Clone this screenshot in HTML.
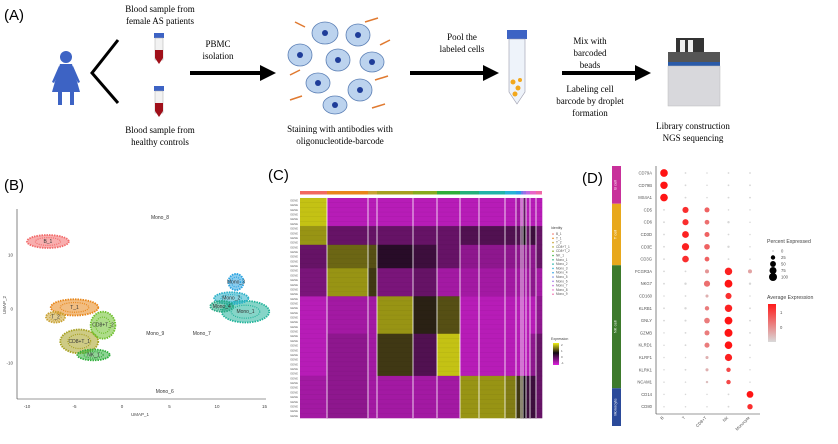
<!DOCTYPE html>
<html><head><meta charset="utf-8"><style>
html,body{margin:0;padding:0;background:#fff;}
svg{display:block;font-family:"Liberation Serif",serif;}
.sans{font-family:"Liberation Sans",sans-serif;}
</style></head><body>
<svg id="fig" width="838" height="444" viewBox="0 0 838 444">
<defs>
<marker id="ah" markerWidth="4" markerHeight="4" refX="2.5" refY="2" orient="auto"><path d="M0,0 L4,2 L0,4 Z" fill="#000"/></marker>
</defs>
<g>
<text x="4" y="20" class="sans" font-size="15">(A)</text>
<g fill="#3d63c4">
<circle cx="66" cy="57" r="6"/>
<path d="M60,64 L72,64 L80,92 L52,92 Z"/>
<rect x="58" y="92" width="4" height="13"/><rect x="70" y="92" width="4" height="13"/>
<path d="M59,66 L52,82 L54,83 L61,69 Z"/><path d="M73,66 L80,82 L78,83 L71,69 Z"/>
</g>
<path d="M118,40 L92,73 L118,103" stroke="#000" stroke-width="3" fill="none"/>
<g><rect x="154" y="33" width="10" height="5" fill="#3d63c4"/><rect x="155" y="38" width="8" height="22" fill="#f2f2f2" stroke="#aaa" stroke-width="0.5"/><path d="M155,50 L163,50 L163,58 L159,64 L155,58 Z" fill="#a0101a"/></g>
<g><rect x="154" y="86" width="10" height="5" fill="#3d63c4"/><rect x="155" y="91" width="8" height="22" fill="#f2f2f2" stroke="#aaa" stroke-width="0.5"/><path d="M155,103 L163,103 L163,111 L159,117 L155,111 Z" fill="#a0101a"/></g>
<g font-size="9" text-anchor="middle"><text x="160" y="12">Blood sample from</text><text x="160" y="24">female AS patients</text></g>
<g font-size="9" text-anchor="middle"><text x="160" y="133">Blood sample from</text><text x="160" y="145">healthy controls</text></g>
<g font-size="9" text-anchor="middle"><text x="218" y="47">PBMC</text><text x="218" y="59">isolation</text></g>
<line x1="190" y1="73" x2="270" y2="73" stroke="#000" stroke-width="4" marker-end="url(#ah)"/>
<g fill="#bcd3ee" stroke="#5b7fb5" stroke-width="0.8">
<ellipse cx="325" cy="33" rx="13" ry="11"/><ellipse cx="358" cy="35" rx="12" ry="11"/><ellipse cx="300" cy="55" rx="12" ry="11"/>
<ellipse cx="338" cy="60" rx="12" ry="11"/><ellipse cx="372" cy="62" rx="12" ry="10"/><ellipse cx="318" cy="83" rx="12" ry="10"/>
<ellipse cx="360" cy="90" rx="12" ry="11"/><ellipse cx="335" cy="105" rx="12" ry="9"/>
</g>
<g fill="#1f3d99">
<circle cx="325" cy="33" r="3"/><circle cx="358" cy="35" r="3"/><circle cx="300" cy="55" r="3"/><circle cx="338" cy="60" r="3"/><circle cx="372" cy="62" r="3"/><circle cx="318" cy="83" r="3"/><circle cx="360" cy="90" r="3"/><circle cx="335" cy="105" r="3"/>
</g>
<g stroke="#e07a30" stroke-width="1.5">
<line x1="295" y1="22" x2="305" y2="27"/><line x1="365" y1="22" x2="378" y2="18"/><line x1="380" y1="45" x2="390" y2="40"/><line x1="290" y1="75" x2="300" y2="70"/><line x1="375" y1="80" x2="388" y2="76"/><line x1="290" y1="100" x2="302" y2="96"/><line x1="372" y1="108" x2="385" y2="104"/>
</g>
<g font-size="9" text-anchor="middle"><text x="340" y="132">Staining with antibodies with</text><text x="340" y="144">oligonucleotide-barcode</text></g>
<g font-size="9" text-anchor="middle"><text x="462" y="40">Pool the</text><text x="462" y="52">labeled cells</text></g>
<line x1="410" y1="73" x2="493" y2="73" stroke="#000" stroke-width="4" marker-end="url(#ah)"/>
<g><rect x="507" y="30" width="20" height="9" fill="#3d63c4"/><path d="M509,39 L525,39 L525,92 L517,104 L509,92 Z" fill="#eef3fa" stroke="#99a" stroke-width="0.6"/>
<circle cx="513" cy="82" r="2.5" fill="#f2a81d"/><circle cx="518" cy="88" r="2.5" fill="#f2a81d"/><circle cx="515" cy="94" r="2.5" fill="#f2a81d"/><circle cx="520" cy="80" r="2" fill="#f2a81d"/></g>
<g font-size="9" text-anchor="middle"><text x="590" y="44">Mix with</text><text x="590" y="56">barcoded</text><text x="590" y="68">beads</text></g>
<line x1="562" y1="73" x2="645" y2="73" stroke="#000" stroke-width="4" marker-end="url(#ah)"/>
<g font-size="9" text-anchor="middle"><text x="590" y="92">Labeling cell</text><text x="590" y="104">barcode by droplet</text><text x="590" y="116">formation</text></g>
<g><rect x="676" y="38" width="28" height="14" fill="#333"/><rect x="680" y="40" width="5" height="12" fill="#eee"/><rect x="688" y="40" width="5" height="12" fill="#eee"/>
<rect x="668" y="52" width="52" height="10" fill="#555"/><rect x="668" y="62" width="52" height="4" fill="#2a5aa8"/><rect x="668" y="66" width="52" height="40" fill="#d8d8dc" stroke="#bbb" stroke-width="0.5"/></g>
<g font-size="9" text-anchor="middle"><text x="693" y="129">Library construction</text><text x="693" y="141">NGS sequencing</text></g>
</g>
<text x="4" y="190" class="sans" font-size="15">(B)</text>
<text x="268" y="180" class="sans" font-size="15">(C)</text>
<text x="582" y="183" class="sans" font-size="15">(D)</text>
<g id="pb" class="sans"></g>
<g id="pc" class="sans"></g>
<g id="pd" class="sans"></g>
</svg>
<script>
const NS="http://www.w3.org/2000/svg";
function mk(tag,attrs,parent,txt){const e=document.createElementNS(NS,tag);for(const k in attrs)e.setAttribute(k,attrs[k]);if(txt!==undefined)e.textContent=txt;parent.appendChild(e);return e;}

/* ---------- Panel B: UMAP ---------- */
const umapClusters=["B_1","T_1","T_2","CD8+T_1","CD8+T_2","NK_1","Mono_1","Mono_2","Mono_3","Mono_4"];
const umapX=[-7.8,-5,-7,-4.5,-2,-3,13,11.5,12,10.5];
const umapY=[12.5,0.3,-1.5,-6,-3,-8.5,-0.5,2,5,0.5];
const umapRx=[2.2,2.5,1,2,1.3,1.7,2.5,1.8,0.8,1.2];
const umapRy=[1.2,1.5,1,2.2,2.5,1,2,1.1,1.5,1];
const umapCol=["#f26b6b","#e8861a","#c9a233","#a6a020","#6cbf2a","#2fae3a","#22b39a","#2ab0c8","#2aa3e0","#27a884"];
const umapLabelText=["Mono_8","Mono_9","Mono_7","Mono_6"];
const umapLabelX=[4,3.5,8.4,4.5];
const umapLabelY=[16.7,-4.8,-4.8,-15.6];
const bxTicks=[-10,-5,0,5,10,15];
const byTicks=[10,0,-10];
const bx=v=>122+9.5*v, by=v=>309-5.4*v;
const pb=document.getElementById('pb');
mk('line',{x1:17,y1:209,x2:17,y2:399,stroke:'#333','stroke-width':0.6,},pb);
mk('line',{x1:17,y1:399,x2:266,y2:399,stroke:'#333','stroke-width':0.6,},pb);
bxTicks.forEach(t=>{const e=mk('text',{x:bx(t),y:408,'font-size':4.5,'text-anchor':'middle',fill:'#444'},pb,String(t));
});
byTicks.forEach(t=>{const e=mk('text',{x:13,y:by(t)+1.5,'font-size':4.5,'text-anchor':'end',fill:'#444'},pb,String(t));
});
mk('text',{x:140,y:416,'font-size':4.5,'text-anchor':'middle',fill:'#444',},pb,'UMAP_1');
mk('text',{x:6,y:305,'font-size':4.5,'text-anchor':'middle',fill:'#444',transform:'rotate(-90 6 305)',},pb,'UMAP_2');
umapClusters.forEach((c,i)=>{
 const g=mk('g',{},pb);
 
 
 const cx=bx(umapX[i]),cy=by(umapY[i]),rx=umapRx[i]*9.5,ry=umapRy[i]*5.4;
 mk('ellipse',{cx,cy,rx,ry,fill:umapCol[i],'fill-opacity':0.55,stroke:umapCol[i],'stroke-width':1.8,'stroke-dasharray':'1.5 1'},g);
 mk('ellipse',{cx,cy,rx:rx*0.6,ry:ry*0.6,fill:'none',stroke:umapCol[i],'stroke-width':1.2,'stroke-dasharray':'1 1.2'},g);
 mk('text',{x:cx,y:cy+1.5,'font-size':5,'text-anchor':'middle',fill:'#333'},g,c);
});
umapLabelText.forEach((t,i)=>{const e=mk('text',{x:bx(umapLabelX[i]),y:by(umapLabelY[i]),'font-size':5,'text-anchor':'middle',fill:'#333'},pb,t);
});

/* ---------- Panel C: heatmap ---------- */
const hmClusters=["B_1","T_1","T_2","CD8+T_1","CD8+T_2","NK_1","Mono_1","Mono_2","Mono_3","Mono_4","Mono_5","Mono_6","Mono_7","Mono_8","Mono_9"];
const hmClusterSize=[27,41,9,36,24,23,19,26,11,5,2,3,4,6,6];
const hmClusterCol=["#f2685f","#e8861a","#c9a233","#a6a020","#86ab1f","#2fae3a","#23b07a","#20b4a8","#27b3d6","#2a9fe6","#6d7fe8","#9a6fe8","#c26be0","#e866c8","#f06aa8"];
const hmBandRows=[6,4,5,6,8,9,9];
const hmValues=[
 [0.9,0.1,0.1,0.1,0.1,0.1,0.1,0.1,0.1,0.15,0.1,0.3,0.1,0.1,0.1],
 [0.8,0.3,0.3,0.3,0.3,0.3,0.35,0.35,0.35,0.35,0.4,0.5,0.3,0.4,0.3],
 [0.3,0.7,0.65,0.45,0.4,0.3,0.2,0.2,0.2,0.2,0.2,0.2,0.2,0.2,0.3],
 [0.25,0.8,0.6,0.25,0.3,0.15,0.15,0.15,0.15,0.15,0.15,0.15,0.15,0.2,0.15],
 [0.1,0.15,0.15,0.8,0.55,0.65,0.1,0.1,0.1,0.1,0.1,0.1,0.1,0.1,0.2],
 [0.1,0.2,0.15,0.6,0.35,0.9,0.1,0.1,0.1,0.1,0.1,0.1,0.1,0.2,0.3],
 [0.15,0.2,0.15,0.15,0.15,0.15,0.8,0.8,0.75,0.6,0.6,0.5,0.4,0.4,0.3]
];
const hmLegendVals=[2,1,0,-1];
const hx0=300,hx1=542,hy0=198,hy1=418;
const totalCells=hmClusterSize.reduce((a,b)=>a+b,0);
const totalRows=hmBandRows.reduce((a,b)=>a+b,0);
const xc=i=>hx0+(hx1-hx0)*hmClusterSize.slice(0,i).reduce((a,b)=>a+b,0)/totalCells;
const yr=r=>hy0+(hy1-hy0)*r/totalRows;
function hcol(v){const mag=[224,32,224],blk=[20,10,20],yel=[240,240,20];let a,b,t;
 if(v<0.5){a=mag;b=blk;t=v/0.5;}else{a=blk;b=yel;t=(v-0.5)/0.5;}
 return 'rgb('+a.map((x,k)=>Math.round(x+(b[k]-x)*t)).join(',')+')';}
const pc=document.getElementById('pc');
let row=0;
hmBandRows.forEach((n,b)=>{
 hmClusters.forEach((c,i)=>{
  const cell=mk('rect',{x:xc(i),y:yr(row),width:xc(i+1)-xc(i)+0.3,height:yr(row+n)-yr(row)+0.3,fill:hcol(hmValues[b][i])},pc);
  
  
 });
 row+=n;
});
for(let r=0;r<totalRows;r++){mk('line',{x1:hx0,y1:yr(r),x2:hx1,y2:yr(r),stroke:'#000','stroke-opacity':0.06,'stroke-width':0.6},pc);
 const g=mk('text',{x:hx0-2,y:yr(r)+3.5,'font-size':2.8,'text-anchor':'end',fill:'#666'},pc,'GENE');
 }
hmClusters.forEach((c,i)=>{
 const bar=mk('rect',{x:xc(i),y:191,width:xc(i+1)-xc(i),height:3.5,fill:hmClusterCol[i]},pc);
 
 if(i>0){const l=mk('line',{x1:xc(i),y1:hy0,x2:xc(i),y2:hy1,stroke:'#fff','stroke-width':0.8},pc);
 }
 const t=mk('text',{x:556,y:235+i*4.3,'font-size':3.2,fill:'#555'},pc,c);
 
 mk('circle',{cx:553,cy:234+i*4.3,r:0.8,fill:hmClusterCol[i]},pc);
});
mk('text',{x:551,y:229,'font-size':3.5,fill:'#444',},pc,'Identity');
mk('text',{x:551,y:340,'font-size':3.5,fill:'#444',},pc,'Expression');
const grad=mk('defs',{},pc);
const lg=mk('linearGradient',{id:'hg',x1:0,y1:0,x2:0,y2:1},grad);
mk('stop',{offset:'0',"stop-color":'rgb(240,240,20)'},lg);mk('stop',{offset:'0.45',"stop-color":'rgb(20,10,20)'},lg);mk('stop',{offset:'1',"stop-color":'rgb(224,32,224)'},lg);
mk('rect',{x:553,y:343,width:6,height:22,fill:'url(#hg)',},pc);
hmLegendVals.forEach((v,i)=>{const t=mk('text',{x:561,y:346+i*6,'font-size':3,fill:'#555'},pc,String(v));
 });

/* ---------- Panel D: dot plot ---------- */
const dpGenes=["CD79A","CD79B","MS4A1","CD5","CD6","CD3D","CD3E","CD3G","FCGR3A","NKG7","CD160","KLRB1","GNLY","GZMB","KLRD1","KLRF1","KLRK1","NCAM1","CD14","CD80"];
const dpCells=["B","T","CD8+T","NK","Monocyte"];
const dpPct=[
 [90,2,1,2,2],[85,2,1,2,2],[90,2,1,2,2],
 [2,55,35,1,1],[2,55,30,5,1],[2,70,35,2,1],[2,80,45,5,1],[2,65,30,2,1],
 [2,2,20,85,20],[2,5,55,95,5],[1,2,10,55,1],[2,5,25,85,2],[2,3,45,95,2],[1,2,35,100,2],[1,2,35,90,2],[1,1,10,80,1],[1,2,10,25,1],[1,1,5,25,1],
 [1,1,1,2,70],[1,1,1,2,40]];
const dpAvg=[
 [1.5,0,0,0,0],[1.5,0,0,0,0],[1.5,0,0,0,0],
 [0,1.3,0.9,0,0],[0,1.3,0.8,0,0],[0,1.4,0.9,0,0],[0,1.4,0.9,0,0],[0,1.3,0.9,0,0],
 [0,0,0.5,1.4,0.4],[0,0,0.8,1.5,0],[0,0,0.3,1.3,0],[0,0,0.7,1.4,0],[0,0,0.7,1.5,0],[0,0,0.7,1.5,0],[0,0,0.7,1.5,0],[0,0,0.3,1.4,0],[0,0,0.3,1.1,0],[0,0,0.2,1.1,0],
 [0,0,0,0,1.5],[0,0,0,0,1.3]];
const dpGroups=["B cell","T cell","NK cell","Monocyte"];
const dpGroupSize=[3,5,10,2];
const dpGroupCol=["#c8309a","#e8a81c","#3d7a2c","#2b4a9a"];
const dpSizeLegend=[0,25,50,75,100];
const dpColorLegend=[1,0];
const dx=i=>664+21.5*i, dy=i=>173+12.3*i;
const dr=p=>0.4+3.6*Math.sqrt(p/100);
function dcol(a){const t=Math.max(0,Math.min(1,a/1.5));const g=[215,215,215],r=[255,20,20];
 return 'rgb('+g.map((x,k)=>Math.round(x+(r[k]-x)*t)).join(',')+')';}
const pd=document.getElementById('pd');
mk('line',{x1:656,y1:166,x2:656,y2:414,stroke:'#333','stroke-width':0.6,},pd);
mk('line',{x1:656,y1:414,x2:760,y2:414,stroke:'#333','stroke-width':0.6,},pd);
let gi=0;
dpGroups.forEach((gname,k)=>{
 const y0=k===0?166:dy(gi)-6.15, y1=k===dpGroups.length-1?426:dy(gi+dpGroupSize[k])-6.15;
 const r=mk('rect',{x:612,y:y0,width:9,height:y1-y0,fill:dpGroupCol[k]},pd);
 
 const cy=(y0+y1)/2;
 const t=mk('text',{x:616.5,y:cy,'font-size':4,fill:'#fff','text-anchor':'middle',transform:'rotate(-90 616.5 '+cy+')'},pd,gname);
 
 gi+=dpGroupSize[k];
});
dpGenes.forEach((g,i)=>{
 const t=mk('text',{x:652,y:dy(i)+1.5,'font-size':4.2,'text-anchor':'end',fill:'#555'},pd,g);
 
 dpCells.forEach((c,j)=>{
  const d=mk('circle',{cx:dx(j),cy:dy(i),r:dr(dpPct[i][j]),fill:dcol(dpAvg[i][j])},pd);
  
 });
});
dpCells.forEach((c,j)=>{const x=dx(j),y=418;
 const t=mk('text',{x,y,'font-size':4.2,'text-anchor':'end',fill:'#555',transform:'rotate(-45 '+x+' '+y+')'},pd,c);
 });
mk('text',{x:767,y:243,'font-size':5.2,fill:'#444',},pd,'Percent Expressed');
dpSizeLegend.forEach((p,i)=>{const y=251+i*6.5;
 const c=mk('circle',{cx:773,cy:y,r:dr(p),fill:'#000'},pd);
 
 const t=mk('text',{x:781,y:y+1.6,'font-size':4.2,fill:'#555'},pd,String(p));
 });
mk('text',{x:767,y:299,'font-size':5.2,fill:'#444',},pd,'Average Expression');
const dg=mk('defs',{},pd);const lg2=mk('linearGradient',{id:'dg',x1:0,y1:0,x2:0,y2:1},dg);
mk('stop',{offset:'0',"stop-color":'#ff1a1a'},lg2);mk('stop',{offset:'1',"stop-color":'#d9d9d9'},lg2);
mk('rect',{x:768,y:304,width:8,height:38,fill:'url(#dg)',},pd);
dpColorLegend.forEach((v,i)=>{const t=mk('text',{x:780,y:314+i*15,'font-size':4.2,fill:'#555'},pd,String(v));
 });
</script>
</body></html>
